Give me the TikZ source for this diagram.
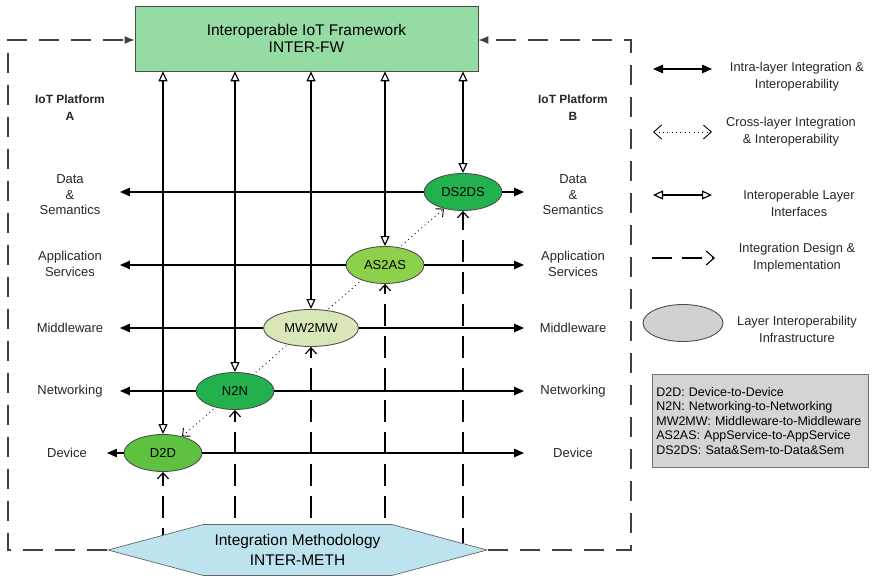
\documentclass[tikz,border=0pt]{standalone}
\usepackage{fontspec}
\setmainfont{Liberation Sans}
\usetikzlibrary{arrows.meta,shapes.geometric,shapes.symbols,backgrounds}

\definecolor{fwgreen}{HTML}{96DBA4}
\definecolor{methblue}{HTML}{BDE3EF}
\definecolor{darkgreen}{HTML}{22B14C}
\definecolor{midgreen}{HTML}{5FC140}
\definecolor{litegreen}{HTML}{8DD14A}
\definecolor{palegreen}{HTML}{D8E6B8}

\tikzset{
  solidtip/.tip={Triangle[length=0.2cm,width=0.17cm]},
  opentip/.tip={Triangle[open,length=0.2cm,width=0.18cm]},
  barbtip/.tip={Straight Barb[length=0.12cm,width=0.22cm]},
  bigbarb/.tip={Straight Barb[length=0.16cm,width=0.28cm]},
  lbl/.style={font=\fontsize{7.4}{8.8}\selectfont, align=center, text=black!85},
  lgnd/.style={font=\fontsize{7.3}{9.6}\selectfont, align=center, text=black!85},
  plat/.style={font=\bfseries\fontsize{6.8}{9.6}\selectfont, align=center, text=black!85},
  layer/.style={ellipse, draw=black!70, line width=0.5pt, minimum width=1.56cm,
    minimum height=0.74cm, inner sep=0pt, font=\fontsize{7.4}{8.8}\selectfont},
  fwbox/.style={draw=black!70, fill=fwgreen, minimum width=6.86cm, minimum height=1.3cm,
    align=center, font=\fontsize{8.8}{9.8}\selectfont},
  methbox/.style={signal, signal to=west and east, signal pointer angle=30,
    draw=black!60, fill=methblue, minimum width=7.58cm, minimum height=1.02cm,
    inner sep=0pt, align=center, font=\fontsize{8.8}{11}\selectfont},
  abbr/.style={draw=black!55, fill=black!17, anchor=north west, minimum width=4.32cm,
    minimum height=1.86cm, text width=4.16cm, inner xsep=0.08cm, align=left,
    font=\fontsize{7.1}{8.2}\selectfont},
  horiz/.style={line width=0.65pt, -solidtip},
  iface/.style={line width=0.65pt, opentip-opentip},
  impl/.style={line width=0.65pt, dash pattern=on 0.44cm off 0.2cm, -barbtip},
  cross/.style={line width=0.5pt, dotted, barbtip-barbtip},
  frame/.style={line width=0.8pt, black!75, dash pattern=on 0.4cm off 0.24cm,
    -{Latex[length=0.2cm,width=0.16cm]}}
}

\begin{document}
\begin{tikzpicture}[x=0.02cm, y=-0.02cm]
  \useasboundingbox (0,0) rectangle (872,577);

  % framework and methodology
  \node[fwbox] (fw) at (306.5,38.5) {Interoperable IoT Framework\\INTER-FW};
  \node[methbox] (meth) at (297.5,550) {Integration Methodology\\INTER-METH};

  % platforms
  \node[plat] (platA) at (70,108) {IoT Platform\\A};
  \node[plat] (platB) at (573,108) {IoT Platform\\B};

  % layer interoperability infrastructure
  \node[layer, fill=darkgreen] (ds2ds) at (463,192) {DS2DS};
  \node[layer, fill=litegreen] (as2as) at (385,265) {AS2AS};
  \node[layer, fill=palegreen, minimum width=1.9cm] (mw2mw) at (311,328) {MW2MW};
  \node[layer, fill=darkgreen] (n2n) at (235,391) {N2N};
  \node[layer, fill=midgreen] (d2d) at (163,453) {D2D};

  % layer names, platform A
  \node[lbl] (dsA) at (70,195) {Data\\\&\\Semantics};
  \node[lbl] (asA) at (70,264) {Application\\Services};
  \node[lbl] (mwA) at (70,328) {Middleware};
  \node[lbl] (nwA) at (70,391) {Networking};
  \node[lbl] (dvA) at (67,453) {Device};
  % layer names, platform B
  \node[lbl] (dsB) at (573,195) {Data\\\&\\Semantics};
  \node[lbl] (asB) at (573,264) {Application\\Services};
  \node[lbl] (mwB) at (573,328) {Middleware};
  \node[lbl] (nwB) at (573,391) {Networking};
  \node[lbl] (dvB) at (573,453) {Device};

  % ends of the layer lines
  \coordinate (lft) at (120,0);
  \coordinate (lftdev) at (107,0);
  \coordinate (rgt) at (524,0);

  \draw[horiz] (ds2ds.west) -- (lft |- ds2ds.west);
  \draw[horiz] (ds2ds.east) -- (rgt |- ds2ds.east);
  \draw[horiz] (as2as.west) -- (lft |- as2as.west);
  \draw[horiz] (as2as.east) -- (rgt |- as2as.east);
  \draw[horiz] (mw2mw.west) -- (lft |- mw2mw.west);
  \draw[horiz] (mw2mw.east) -- (rgt |- mw2mw.east);
  \draw[horiz] (n2n.west) -- (lft |- n2n.west);
  \draw[horiz] (n2n.east) -- (rgt |- n2n.east);
  \draw[horiz] (d2d.west) -- (lftdev |- d2d.west);
  \draw[horiz] (d2d.east) -- (rgt |- d2d.east);

  % interoperable layer interfaces
  \draw[iface] (d2d.north) -- (d2d.north |- fw.south);
  \draw[iface] (n2n.north) -- (n2n.north |- fw.south);
  \draw[iface] (mw2mw.north) -- (mw2mw.north |- fw.south);
  \draw[iface] (as2as.north) -- (as2as.north |- fw.south);
  \draw[iface] (ds2ds.north) -- (ds2ds.north |- fw.south);

  % design and implementation frame
  \coordinate (cornerTL) at (8,40);
  \coordinate (cornerTR) at (631,40);
  \coordinate (cornerBL) at (8,550);
  \coordinate (cornerBR) at (631,550);
  \draw[frame] (meth.west) -- (cornerBL) -- (cornerTL) -- (fw.west |- cornerTL);
  \draw[frame] (meth.east) -- (cornerBR) -- (cornerTR) -- (fw.east |- cornerTR);

  \begin{pgfonlayer}{background}
    \draw[impl] (d2d.south |- meth.center) -- (d2d.south);
    \draw[impl] (n2n.south |- meth.center) -- (n2n.south);
    \draw[impl] (mw2mw.south |- meth.center) -- (mw2mw.south);
    \draw[impl] (as2as.south |- meth.center) -- (as2as.south);
    \draw[impl] (ds2ds.south |- meth.center) -- (ds2ds.south);
    \draw[cross] (d2d) -- (ds2ds);
  \end{pgfonlayer}

  % legend
  \coordinate (k1a) at (653,69);  \coordinate (k1b) at (712,69);
  \coordinate (k2a) at (653,132); \coordinate (k2b) at (712,132);
  \coordinate (k3a) at (653,195); \coordinate (k3b) at (712,195);
  \coordinate (k4a) at (652,258); \coordinate (k4b) at (715,258);
  \draw[line width=0.65pt, solidtip-solidtip] (k1a) -- (k1b);
  \draw[cross, bigbarb-bigbarb] (k2a) -- (k2b);
  \draw[iface] (k3a) -- (k3b);
  \draw[impl, dash pattern=on 0.4cm off 0.2cm, -bigbarb] (k4a) -- (k4b);
  \node[layer, fill=black!18, minimum width=1.6cm] (k5) at (683,323) {};

  \node[lgnd] (k1txt) at (797,77) {Intra-layer Integration \&\\Interoperability};
  \node[lgnd] (k2txt) at (791,132) {Cross-layer Integration\\\& Interoperability};
  \node[lgnd] (k3txt) at (799,203) {Interoperable Layer\\Interfaces};
  \node[lgnd] (k4txt) at (797,258) {Integration Design \&\\Implementation};
  \node[lgnd] (k5txt) at (797,329) {Layer Interoperability\\Infrastructure};

  \node[abbr] (abbrev) at (652,374) {D2D: Device-to-Device\\N2N: Networking-to-Networking\\MW2MW: Middleware-to-Middleware\\AS2AS: AppService-to-AppService\\DS2DS: Sata\&Sem-to-Data\&Sem};
\end{tikzpicture}
\end{document}
